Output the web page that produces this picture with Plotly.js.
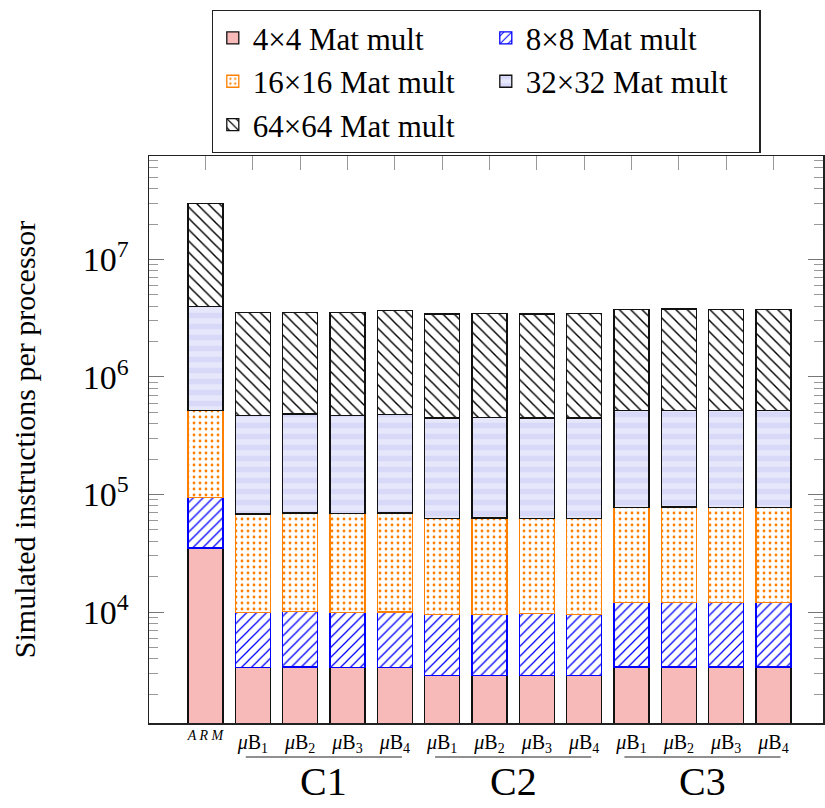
<!DOCTYPE html>
<html>
<head>
<meta charset="utf-8">
<script src="https://cdn.plot.ly/plotly-3.0.1.min.js"></script>
<style>html,body{margin:0;padding:0;background:#fff;}#chart{width:825px;height:808px;}</style>
</head>
<body>
<div id="chart"></div>
<script>
// Categories (unique ids) and their tick labels
var categories = ['ARM',
  'C1-uB1','C1-uB2','C1-uB3','C1-uB4',
  'C2-uB1','C2-uB2','C2-uB3','C2-uB4',
  'C3-uB1','C3-uB2','C3-uB3','C3-uB4'];
var tickLabels = ['<sup><i>A R M</i></sup>',
  '<i>μ</i>B<sub>1</sub>','<i>μ</i>B<sub>2</sub>','<i>μ</i>B<sub>3</sub>','<i>μ</i>B<sub>4</sub>',
  '<i>μ</i>B<sub>1</sub>','<i>μ</i>B<sub>2</sub>','<i>μ</i>B<sub>3</sub>','<i>μ</i>B<sub>4</sub>',
  '<i>μ</i>B<sub>1</sub>','<i>μ</i>B<sub>2</sub>','<i>μ</i>B<sub>3</sub>','<i>μ</i>B<sub>4</sub>'];
var groupNames = ['C1','C2','C3'];
var groupMembers = [[1,4],[5,8],[9,12]];

// Simulated instructions per processor (stacked segments)
var mat4  = [35000, 3360, 3400, 3380, 3380, 2870, 2900, 2870, 2870, 3400, 3400, 3400, 3400];
var mat8  = [59000, 6600, 6650, 6570, 6610, 6690, 6660, 6800, 6690, 8700, 8700, 8700, 8700];
var mat16 = [426000, 58500, 59700, 59000, 59800, 53200, 53700, 53100, 53200, 65900, 66400, 65400, 65900];
var mat32 = [3480000, 403500, 415000, 403000, 408000, 385000, 391000, 385000, 385000, 443000, 442500, 443500, 443000];
var mat64 = [26000000, 3058000, 3075000, 3058000, 3192000, 2992000, 3016000, 2992000, 3002000, 3229000, 3269000, 3229000, 3229000];

var seriesNames = ['4×4 Mat mult','8×8 Mat mult','16×16 Mat mult','32×32 Mat mult','64×64 Mat mult'];

var FONT = 'Liberation Serif';
var BW = 0.74;

function bar(name, y, lineColor, pattern, color) {
  return {
    type: 'bar', name: name, x: categories, y: y, width: BW,
    marker: {color: color, line: {color: lineColor, width: 1.3}, pattern: pattern},
    hoverinfo: 'name+y'
  };
}

var traces = [
  bar(seriesNames[0], mat4, '#111', {shape: ''}, '#f8b9b9'),
  bar(seriesNames[1], mat8, '#0000ff', {shape: '/', fgcolor: '#0000ff', bgcolor: '#ffffff', size: 7, solidity: 0.18, fillmode: 'replace'}, '#0000ff'),
  bar(seriesNames[2], mat16, '#ff8000', {shape: '.', fgcolor: '#ff8000', bgcolor: '#ffffff', size: 6, solidity: 0.17, fillmode: 'replace'}, '#ff8000'),
  bar(seriesNames[3], mat32, '#111', {shape: '-', fgcolor: '#d8d8f8', bgcolor: '#e7e7fb', size: 11, solidity: 0.5, fillmode: 'replace'}, '#d8d8f8'),
  bar(seriesNames[4], mat64, '#111', {shape: '\\', fgcolor: '#000000', bgcolor: '#ffffff', size: 8, solidity: 0.18, fillmode: 'replace'}, '#000000')
];

var shapes = [], annotations = [];
for (var g = 0; g < groupNames.length; g++) {
  var a = groupMembers[g][0], b = groupMembers[g][1];
  shapes.push({type: 'line', xref: 'x', yref: 'paper', x0: a - 0.15, x1: b + 0.15, y0: -0.06, y1: -0.06,
    line: {color: '#222', width: 1.2}});
  annotations.push({xref: 'x', yref: 'paper', x: (a + b) / 2, y: -0.104, yanchor: 'middle', xanchor: 'center',
    text: groupNames[g], showarrow: false, font: {family: FONT, size: 40, color: '#000'}});
}

var layout = {
  width: 825, height: 808,
  margin: {l: 149, r: 2, t: 156, b: 85, autoexpand: false},
  paper_bgcolor: '#fff', plot_bgcolor: '#fff',
  barmode: 'stack',
  font: {family: FONT, color: '#000'},
  showlegend: true,
  legend: {
    orientation: 'h', x: 0.5, xanchor: 'center', y: 1.0053, yanchor: 'bottom',
    bgcolor: '#fff', bordercolor: '#222', borderwidth: 1.3,
    font: {family: FONT, size: 31, color: '#000'},
    entrywidth: 228, entrywidthmode: 'pixels', traceorder: 'normal'
  },
  xaxis: {
    type: 'category', categoryorder: 'array', categoryarray: categories,
    range: [-1.194, 13.046], tickmode: 'array', tickvals: categories, ticktext: tickLabels,
    tickfont: {family: FONT, size: 20, color: '#000'}, tickangle: 0,
    ticks: 'inside', ticklen: 14, tickcolor: '#999', tickwidth: 1,
    showline: true, linecolor: '#222', linewidth: 1.5, mirror: 'ticks',
    showgrid: false, zeroline: false, layer: 'below traces', fixedrange: true
  },
  yaxis: {
    type: 'log', range: [3.056, 7.88],
    tickmode: 'array', tickvals: [1e4, 1e5, 1e6, 1e7],
    ticktext: ['10<sup>4</sup>', '10<sup>5</sup>', '10<sup>6</sup>', '10<sup>7</sup>'],
    tickfont: {family: FONT, size: 34, color: '#000'},
    ticks: 'inside', ticklen: 15, tickcolor: '#777', tickwidth: 1,
    ticklabelstandoff: 12,
    minor: {ticks: 'inside', ticklen: 9, tickcolor: '#999', tickwidth: 1, dtick: 'D1', showgrid: false},
    showline: true, linecolor: '#222', linewidth: 1.5, mirror: 'ticks',
    showgrid: false, zeroline: false, layer: 'below traces', fixedrange: true,
    title: {text: 'Simulated instructions per processor', font: {family: FONT, size: 30, color: '#000'}, standoff: 38}
  },
  shapes: shapes,
  annotations: annotations
};

Plotly.newPlot('chart', traces, layout, {displayModeBar: false, staticPlot: true});
</script>
</body>
</html>
